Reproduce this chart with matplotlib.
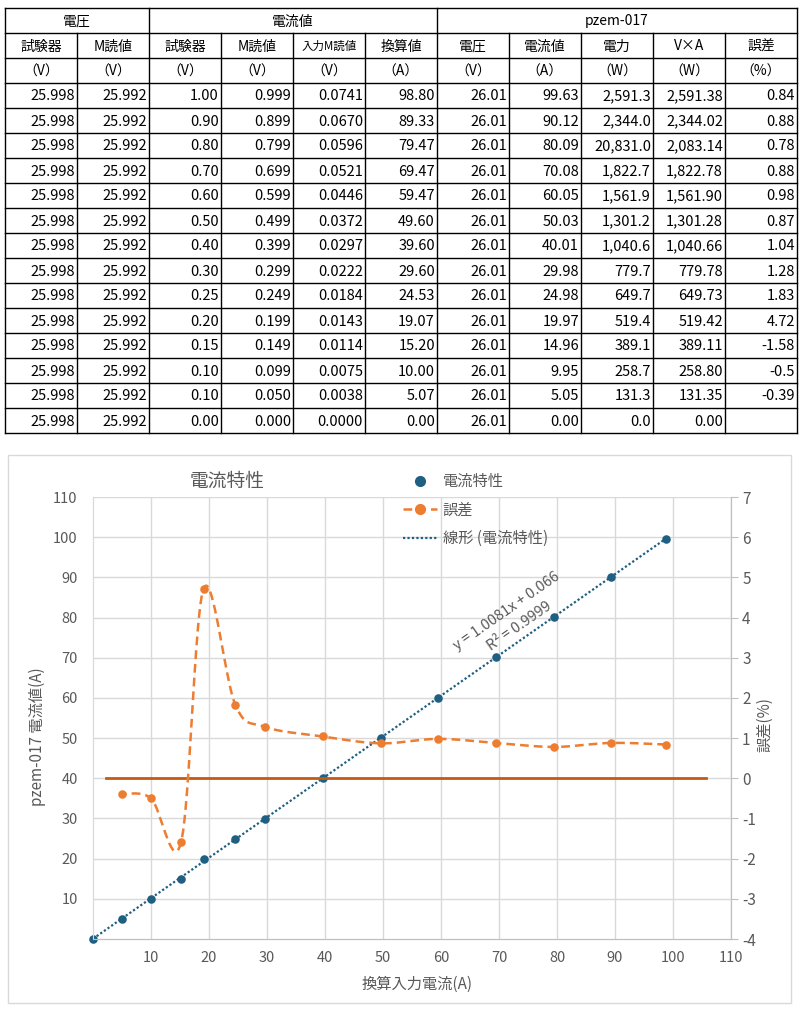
import numpy as np
import matplotlib
matplotlib.use('Agg')
import matplotlib.pyplot as plt
from matplotlib.lines import Line2D
from matplotlib.patches import Rectangle

plt.rcParams['font.family'] = ['Noto Sans CJK JP', 'DejaVu Sans']
plt.rcParams['axes.unicode_minus'] = False

# table data
v_tester = [25.998] * 14
v_meter = [25.992] * 14
i_tester = [1.00, 0.90, 0.80, 0.70, 0.60, 0.50, 0.40, 0.30, 0.25, 0.20, 0.15, 0.10, 0.10, 0.00]
i_meter = [0.999, 0.899, 0.799, 0.699, 0.599, 0.499, 0.399, 0.299, 0.249, 0.199, 0.149, 0.099, 0.050, 0.000]
i_input = [0.0741, 0.0670, 0.0596, 0.0521, 0.0446, 0.0372, 0.0297, 0.0222, 0.0184, 0.0143, 0.0114, 0.0075, 0.0038, 0.0000]
i_conv = [98.80, 89.33, 79.47, 69.47, 59.47, 49.60, 39.60, 29.60, 24.53, 19.07, 15.20, 10.00, 5.07, 0.00]
pz_volt = [26.01] * 14
pz_curr = [99.63, 90.12, 80.09, 70.08, 60.05, 50.03, 40.01, 29.98, 24.98, 19.97, 14.96, 9.95, 5.05, 0.00]
pz_power = [2591.3, 2344.0, 20831.0, 1822.7, 1561.9, 1301.2, 1040.6, 779.7, 649.7, 519.4, 389.1, 258.7, 131.3, 0.0]
pz_va = [2591.38, 2344.02, 2083.14, 1822.78, 1561.90, 1301.28, 1040.66, 779.78, 649.73, 519.42, 389.11, 258.80, 131.35, 0.00]
pz_err = [0.84, 0.88, 0.78, 0.88, 0.98, 0.87, 1.04, 1.28, 1.83, 4.72, -1.58, -0.5, -0.39, None]

groups = [('電圧', 0, 2), ('電流値', 2, 6), ('pzem-017', 6, 11)]
sub_headers = ['試験器', 'M読値', '試験器', 'M読値', '入力M読値', '換算値',
               '電圧', '電流値', '電力', 'V×A', '誤差']
units = ['（V）', '（V）', '（V）', '（V）', '（V）', '（A）',
         '（V）', '（A）', '（W）', '（W）', '（%）']

# reference line at error = 0
zero_x = [2.3, 105.7]
zero_y = [0, 0]

eq_text = 'y = 1.0081x + 0.066'
r2_text = 'R² = 0.9999'

W, H = 809, 1017
fig = plt.figure(figsize=(W / 100, H / 100), dpi=100)


def px(x, y):
    return x / W, 1 - y / H


# ---- table ----
tab = fig.add_axes([0, 0, 1, 1])
tab.set_xlim(0, W)
tab.set_ylim(H, 0)
tab.axis('off')

x0, cw = 5, 72
y0, rh = 8, 25
ncol, nrow = 11, 17
col_x = [x0 + cw * i for i in range(ncol + 1)]
row_y = [y0 + rh * i for i in range(nrow + 1)]

for y in row_y:
    tab.plot([col_x[0], col_x[-1]], [y, y], color='black', lw=1)
for i, x in enumerate(col_x):
    top = row_y[0] if i in (0, 2, 6, 11) else row_y[1]
    tab.plot([x, x], [top, row_y[-1]], color='black', lw=1)

for name, a, b in groups:
    tab.text((col_x[a] + col_x[b]) / 2, row_y[0] + rh / 2 + 1, name,
             ha='center', va='center', fontsize=10)
for i, s in enumerate(sub_headers):
    fs = 8.3 if s == '入力M読値' else 10
    tab.text(col_x[i] + cw / 2, row_y[1] + rh / 2 + 1, s, ha='center', va='center', fontsize=fs)
for i, s in enumerate(units):
    tab.text(col_x[i] + cw / 2, row_y[2] + rh / 2 + 1, s, ha='center', va='center', fontsize=10)

columns = [
    [f'{v:.3f}' for v in v_tester],
    [f'{v:.3f}' for v in v_meter],
    [f'{v:.2f}' for v in i_tester],
    [f'{v:.3f}' for v in i_meter],
    [f'{v:.4f}' for v in i_input],
    [f'{v:.2f}' for v in i_conv],
    [f'{v:.2f}' for v in pz_volt],
    [f'{v:.2f}' for v in pz_curr],
    [f'{v:,.1f}' for v in pz_power],
    [f'{v:,.2f}' for v in pz_va],
    ['' if v is None else f'{v:g}' for v in pz_err],
]
for c, col in enumerate(columns):
    for r, s in enumerate(col):
        tab.text(col_x[c + 1] - 2, row_y[3 + r] + rh / 2 + 1, s,
                 ha='right', va='center', fontsize=10.5)

# ---- chart ----
grey = '#595959'
blue = '#1f5f82'
orange = '#ED7D31'
dark_orange = '#C55A11'

fig.patches.append(Rectangle(px(8, 1003), 783 / W, 548 / H, transform=fig.transFigure,
                             fill=False, edgecolor='#D9D9D9', lw=1))

ax_l, ax_r, ax_t, ax_b = 93, 731, 497, 939
ax = fig.add_axes([ax_l / W, 1 - ax_b / H, (ax_r - ax_l) / W, (ax_b - ax_t) / H])
ax2 = ax.twinx()

ax.set_xlim(0, 110)
ax.set_ylim(0, 110)
ax2.set_ylim(-4, 7)
ax.set_xticks(range(10, 111, 10))
ax.set_yticks(range(10, 111, 10))
ax2.set_yticks(range(-4, 8))
ax.grid(True, color='#D9D9D9', lw=1)
ax.set_axisbelow(True)
for a in (ax, ax2):
    a.spines['top'].set_visible(False)
    a.spines['left'].set_color('#D9D9D9')
    a.spines['bottom'].set_color('#BFBFBF')
    a.spines['right'].set_color('#BFBFBF')
ax.tick_params(axis='both', length=0, labelsize=10.5, labelcolor=grey)
ax.tick_params(axis='y', pad=11)
ax.tick_params(axis='x', pad=9)
ax2.tick_params(axis='y', length=5, color='#BFBFBF', labelsize=11, labelcolor=grey, pad=3)

# zero line for error
ax2.plot(zero_x, zero_y, color=dark_orange, lw=2, zorder=2)

# trendline
m, b = np.polyfit(i_conv, pz_curr, 1)
tx = np.array([min(i_conv), max(i_conv)])
ax.plot(tx, m * tx + b, color=blue, lw=1.6, linestyle=(0, (1, 1)), zorder=3, clip_on=False)

# scatter
ax.scatter(i_conv, pz_curr, s=38, color=blue, zorder=4, linewidths=0, clip_on=False)

# smoothed error curve (catmull-rom in screen space)
ex = np.array([x for x, e in zip(i_conv, pz_err) if e is not None])
ey = np.array([e for e in pz_err if e is not None])
sw, sh = (ax_r - ax_l) / 110, (ax_b - ax_t) / 11
P = np.column_stack([ex * sw, (ey + 4) * sh])
Pp = np.vstack([P[0], P, P[-1]])
curve = []
t = np.linspace(0, 1, 40)[:, None]
for i in range(1, len(Pp) - 2):
    p0, p1, p2, p3 = Pp[i - 1], Pp[i], Pp[i + 1], Pp[i + 2]
    c1 = p1 + (p2 - p0) / 6
    c2 = p2 - (p3 - p1) / 6
    seg = (1 - t) ** 3 * p1 + 3 * (1 - t) ** 2 * t * c1 + 3 * (1 - t) * t ** 2 * c2 + t ** 3 * p2
    curve.append(seg)
curve = np.vstack(curve)
ax2.plot(curve[:, 0] / sw, curve[:, 1] / sh - 4, color=orange, lw=1.8,
         linestyle=(0, (3.5, 2)), zorder=3)
ax2.scatter(ex, ey, s=38, color=orange, zorder=4, linewidths=0)

# trendline equation
left_scale = (ax_b - ax_t) / 110
ang = np.degrees(np.arctan(m * left_scale / sw))
ax.text(0.649, 0.742, eq_text, transform=ax.transAxes, rotation=ang, rotation_mode='anchor',
        ha='center', va='center', fontsize=10.5, color=grey)
ax.text(0.668, 0.707, r2_text, transform=ax.transAxes, rotation=ang, rotation_mode='anchor',
        ha='center', va='center', fontsize=10.5, color=grey)

# titles and labels
fig.text(*px(227, 481), '電流特性', ha='center', va='center', fontsize=13.5, color=grey)
fig.text(*px(417, 984), '換算入力電流(A)', ha='center', va='center', fontsize=11, color=grey)
fig.text(*px(37, 737), 'pzem-017 電流値(A)', ha='center', va='center', rotation=90,
         fontsize=11, color=grey)
fig.text(*px(765, 725), '誤差(%)', ha='center', va='center', rotation=90,
         fontsize=11, color=grey)

handles = [
    Line2D([], [], marker='o', linestyle='none', color=blue, markersize=7),
    Line2D([], [], marker='o', linestyle=(0, (3.5, 2)), color=orange, lw=1.8, markersize=7),
    Line2D([], [], linestyle=(0, (1, 1)), color=blue, lw=1.6),
]
leg = fig.legend(handles, ['電流特性', '誤差', '線形 (電流特性)'], loc='upper left',
                 bbox_to_anchor=px(403, 473), frameon=False, fontsize=11, labelcolor=grey,
                 borderpad=0, borderaxespad=0, labelspacing=0.75, handlelength=2.2,
                 handletextpad=0.4)

fig.savefig('out.png', dpi=100)
